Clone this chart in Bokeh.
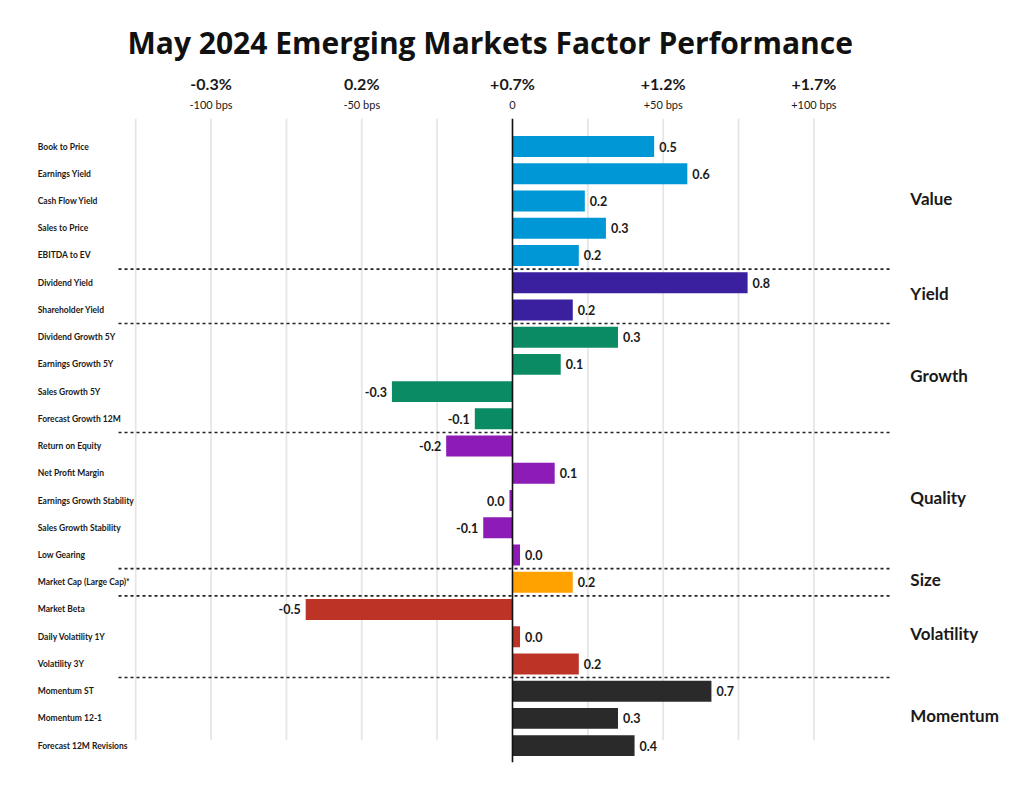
from bokeh.plotting import figure
from bokeh.models import Range1d, LinearAxis, FixedTicker, ColumnDataSource, Span
from bokeh.core.properties import value
from bokeh.embed import file_html
from bokeh.resources import INLINE

# ---------------- data ----------------
factors = ["Book to Price", "Earnings Yield", "Cash Flow Yield", "Sales to Price", "EBITDA to EV",
           "Dividend Yield", "Shareholder Yield",
           "Dividend Growth 5Y", "Earnings Growth 5Y", "Sales Growth 5Y", "Forecast Growth 12M",
           "Return on Equity", "Net Profit Margin", "Earnings Growth Stability", "Sales Growth Stability", "Low Gearing",
           "Market Cap (Large Cap)*",
           "Market Beta", "Daily Volatility 1Y", "Volatility 3Y",
           "Momentum ST", "Momentum 12-1", "Forecast 12M Revisions"]
# relative performance in % (bar lengths as drawn)
values = [0.47, 0.58, 0.24, 0.31, 0.22,
          0.78, 0.20,
          0.35, 0.16, -0.40, -0.125,
          -0.22, 0.14, -0.01, -0.097, 0.025,
          0.20,
          -0.686, 0.025, 0.22,
          0.66, 0.35, 0.405]
value_labels = ["0.5", "0.6", "0.2", "0.3", "0.2",
                "0.8", "0.2",
                "0.3", "0.1", "-0.3", "-0.1",
                "-0.2", "0.1", "0.0", "-0.1", "0.0",
                "0.2",
                "-0.5", "0.0", "0.2",
                "0.7", "0.3", "0.4"]
groups = ["Value", "Yield", "Growth", "Quality", "Size", "Volatility", "Momentum"]
group_sizes = [5, 2, 4, 5, 1, 3, 3]
group_colors = ["#0097D7", "#3A1F9F", "#0B8B63", "#8D1BB5", "#FFA200", "#BD3427", "#2A2A2A"]

tick_pos = [-1.0, -0.5, 0.0, 0.5, 1.0]
tick_pct = ["-0.3%", "0.2%", "+0.7%", "+1.2%", "+1.7%"]
tick_bps = ["-100 bps", "-50 bps", "0", "+50 bps", "+100 bps"]
grid_pos = [-1.25, -1.0, -0.75, -0.5, -0.25, 0.25, 0.5, 0.75, 1.0]

FONT = "Lato"
TITLE_FONT = "Open Sans"
TXT = "#1a1a1a"

# ---------------- derived ----------------
idx = list(range(len(factors)))
colors = []
group_idx = []
start = 0
for g, n, c in zip(groups, group_sizes, group_colors):
    colors += [c] * n
    group_idx.append(start + (n - 1) / 2)
    start += n
boundaries = []
s = 0
for n in group_sizes[:-1]:
    s += n
    boundaries.append(s - 0.5)

X0, X1 = -1.599, 1.619
Y0, Y1 = 22.62, -1.03
LABEL_X = -1.575
GROUP_X = 1.32
SEP_X0, SEP_X1 = -1.307, 1.254
GRID_Y0, GRID_Y1 = -1.03, 21.8

p = figure(width=1008, height=772, output_backend="svg", toolbar_location=None,
           x_range=Range1d(X0, X1), y_range=Range1d(Y0, Y1),
           x_axis_location=None, y_axis_location=None,
           min_border_left=30, min_border_right=8, min_border_top=118, min_border_bottom=10)
p.grid.visible = False
p.outline_line_color = None
p.background_fill_color = "white"
p.border_fill_color = "white"

p.title.text = "May 2024 Emerging Markets Factor Performance"
p.title.text_font = TITLE_FONT
p.title.text_font_size = "30px"
p.title.text_font_style = "bold"
p.title.text_color = "#111111"
p.title.align = "left"
p.title.offset = 97
p.title.standoff = 16

# top axes
ax_bps = LinearAxis(ticker=FixedTicker(ticks=tick_pos),
                    major_label_overrides={t: l for t, l in zip(tick_pos, tick_bps)})
ax_pct = LinearAxis(ticker=FixedTicker(ticks=tick_pos),
                    major_label_overrides={t: l for t, l in zip(tick_pos, tick_pct)})
for ax, size, style, stand in [(ax_bps, "11px", "normal", 8), (ax_pct, "16px", "bold", 2)]:
    ax.axis_line_color = None
    ax.major_tick_line_color = None
    ax.minor_tick_line_color = None
    ax.major_tick_out = 0
    ax.major_tick_in = 0
    ax.major_label_text_font = FONT
    ax.major_label_text_font_size = size
    ax.major_label_text_font_style = style
    ax.major_label_text_color = TXT
    ax.major_label_standoff = stand
p.add_layout(ax_bps, "above")
p.add_layout(ax_pct, "above")

# grid lines
p.segment(x0=grid_pos, x1=grid_pos, y0=[GRID_Y0] * len(grid_pos), y1=[GRID_Y1] * len(grid_pos),
          line_color="#e6e6e6", line_width=1.8)

# group separators
p.segment(x0=[SEP_X0] * len(boundaries), x1=[SEP_X1] * len(boundaries), y0=boundaries, y1=boundaries,
          line_color="#222222", line_width=1.6, line_dash="3 3")

# bars
src = ColumnDataSource(dict(y=idx, v=values, c=colors))
p.hbar(y="y", left=0, right="v", height=0.77, fill_color="c", line_color=None, source=src)

# zero line
p.add_layout(Span(location=0, dimension="height", line_color="#111111", line_width=1.6))

# value labels
pos = [i for i in idx if values[i] >= 0]
neg = [i for i in idx if values[i] < 0]
src_pos = ColumnDataSource(dict(x=[values[i] for i in pos], y=pos, t=[value_labels[i] for i in pos]))
src_neg = ColumnDataSource(dict(x=[values[i] for i in neg], y=neg, t=[value_labels[i] for i in neg]))
for s_, align, off in [(src_pos, "left", 5), (src_neg, "right", -5)]:
    p.text(x="x", y="y", text="t", source=s_, text_align=align, text_baseline="middle",
           x_offset=off, text_font=value(FONT), text_font_size="12.5px", text_font_style="bold",
           text_color=TXT)

# factor labels
p.text(x=[LABEL_X] * len(factors), y=idx, text=factors, text_align="left", text_baseline="middle",
       text_font=value(FONT), text_font_size="8.5px", text_font_style="bold", text_color=TXT)

# group labels
p.text(x=[GROUP_X] * len(groups), y=group_idx, text=groups, text_align="left", text_baseline="middle",
       y_offset=-3, text_font=value(FONT), text_font_size="17px", text_font_style="bold", text_color=TXT)

open("out.html", "w").write(file_html(p, INLINE))
